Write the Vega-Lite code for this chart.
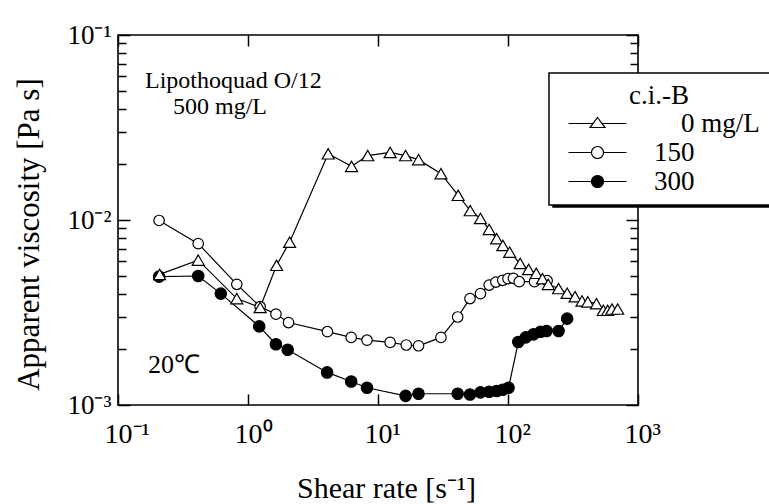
{
  "$schema": "https://vega.github.io/schema/vega-lite/v6.json",
  "width": 520,
  "height": 370,
  "autosize": "none",
  "padding": {"left": 118, "top": 35, "right": 131, "bottom": 99},
  "background": "white",
  "config": {
    "font": "Liberation Serif",
    "view": {"stroke": "black", "strokeWidth": 1.6},
    "axis": {"labelColor": "black", "titleColor": "black", "tickColor": "black", "tickWidth": 1.5, "domain": false, "grid": false, "labelFlush": false, "labelOverlap": false, "titleFontWeight": "normal"},
    "legend": {"strokeWidth": 1.5}
  },
  "data": {
    "values": [
      {"ciB": "300", "rate": 0.207, "visc": 0.00494},
      {"ciB": "300", "rate": 0.414, "visc": 0.00498},
      {"ciB": "300", "rate": 0.618, "visc": 0.0040},
      {"ciB": "300", "rate": 1.22, "visc": 0.00266},
      {"ciB": "300", "rate": 1.64, "visc": 0.00213},
      {"ciB": "300", "rate": 2.02, "visc": 0.00199},
      {"ciB": "300", "rate": 4.06, "visc": 0.0015},
      {"ciB": "300", "rate": 6.22, "visc": 0.00134},
      {"ciB": "300", "rate": 8.23, "visc": 0.00124},
      {"ciB": "300", "rate": 16.3, "visc": 0.00112},
      {"ciB": "300", "rate": 20.5, "visc": 0.00115},
      {"ciB": "300", "rate": 41, "visc": 0.00115},
      {"ciB": "300", "rate": 51, "visc": 0.00114},
      {"ciB": "300", "rate": 61.4, "visc": 0.00117},
      {"ciB": "300", "rate": 71.6, "visc": 0.00118},
      {"ciB": "300", "rate": 81.8, "visc": 0.00119},
      {"ciB": "300", "rate": 91, "visc": 0.00121},
      {"ciB": "300", "rate": 101, "visc": 0.00124},
      {"ciB": "300", "rate": 120, "visc": 0.00219},
      {"ciB": "300", "rate": 137, "visc": 0.00232},
      {"ciB": "300", "rate": 157, "visc": 0.00241},
      {"ciB": "300", "rate": 178, "visc": 0.00249},
      {"ciB": "300", "rate": 198, "visc": 0.00251},
      {"ciB": "300", "rate": 245, "visc": 0.00251},
      {"ciB": "300", "rate": 285, "visc": 0.00293},
      {"ciB": "150", "rate": 0.207, "visc": 0.00994},
      {"ciB": "150", "rate": 0.414, "visc": 0.00745},
      {"ciB": "150", "rate": 0.82, "visc": 0.00449},
      {"ciB": "150", "rate": 1.24, "visc": 0.0034},
      {"ciB": "150", "rate": 1.64, "visc": 0.0031},
      {"ciB": "150", "rate": 2.05, "visc": 0.00279},
      {"ciB": "150", "rate": 4.08, "visc": 0.00249},
      {"ciB": "150", "rate": 6.22, "visc": 0.00232},
      {"ciB": "150", "rate": 8.23, "visc": 0.00224},
      {"ciB": "150", "rate": 12.4, "visc": 0.00218},
      {"ciB": "150", "rate": 16.5, "visc": 0.00211},
      {"ciB": "150", "rate": 20.5, "visc": 0.00209},
      {"ciB": "150", "rate": 30.5, "visc": 0.00232},
      {"ciB": "150", "rate": 41, "visc": 0.00299},
      {"ciB": "150", "rate": 51, "visc": 0.00376},
      {"ciB": "150", "rate": 61.4, "visc": 0.0040},
      {"ciB": "150", "rate": 71.6, "visc": 0.00445},
      {"ciB": "150", "rate": 80.7, "visc": 0.00462},
      {"ciB": "150", "rate": 91, "visc": 0.00472},
      {"ciB": "150", "rate": 100, "visc": 0.00482},
      {"ciB": "150", "rate": 110, "visc": 0.00484},
      {"ciB": "150", "rate": 122, "visc": 0.00464},
      {"ciB": "150", "rate": 160, "visc": 0.00464},
      {"ciB": "150", "rate": 200, "visc": 0.0047},
      {"ciB": "0", "rate": 0.209, "visc": 0.00508},
      {"ciB": "0", "rate": 0.414, "visc": 0.00607},
      {"ciB": "0", "rate": 0.82, "visc": 0.00376},
      {"ciB": "0", "rate": 1.24, "visc": 0.00337},
      {"ciB": "0", "rate": 1.66, "visc": 0.00569},
      {"ciB": "0", "rate": 2.09, "visc": 0.00759},
      {"ciB": "0", "rate": 4.14, "visc": 0.0228},
      {"ciB": "0", "rate": 6.26, "visc": 0.0195},
      {"ciB": "0", "rate": 8.34, "visc": 0.0223},
      {"ciB": "0", "rate": 12.4, "visc": 0.0232},
      {"ciB": "0", "rate": 16.3, "visc": 0.0223},
      {"ciB": "0", "rate": 20.5, "visc": 0.0212},
      {"ciB": "0", "rate": 30.5, "visc": 0.0178},
      {"ciB": "0", "rate": 41.4, "visc": 0.0136},
      {"ciB": "0", "rate": 51.2, "visc": 0.01125},
      {"ciB": "0", "rate": 61.4, "visc": 0.01019},
      {"ciB": "0", "rate": 71.6, "visc": 0.00889},
      {"ciB": "0", "rate": 81.8, "visc": 0.00792},
      {"ciB": "0", "rate": 91.3, "visc": 0.00728},
      {"ciB": "0", "rate": 103, "visc": 0.0067},
      {"ciB": "0", "rate": 124, "visc": 0.00582},
      {"ciB": "0", "rate": 144, "visc": 0.0054},
      {"ciB": "0", "rate": 165, "visc": 0.00515},
      {"ciB": "0", "rate": 184, "visc": 0.00482},
      {"ciB": "0", "rate": 204, "visc": 0.00449},
      {"ciB": "0", "rate": 245, "visc": 0.00426},
      {"ciB": "0", "rate": 285, "visc": 0.00402},
      {"ciB": "0", "rate": 328, "visc": 0.00385},
      {"ciB": "0", "rate": 371, "visc": 0.00365},
      {"ciB": "0", "rate": 411, "visc": 0.00361},
      {"ciB": "0", "rate": 479, "visc": 0.00353},
      {"ciB": "0", "rate": 541, "visc": 0.00325},
      {"ciB": "0", "rate": 585, "visc": 0.00325},
      {"ciB": "0", "rate": 631, "visc": 0.0033},
      {"ciB": "0", "rate": 698, "visc": 0.0033}
    ]
  },
  "layer": [
    {
      "mark": {"type": "line", "color": "black", "strokeWidth": 1.2},
      "encoding": {
        "x": {"field": "rate", "type": "quantitative", "scale": {"type": "log", "domain": [0.1, 1000], "nice": false},
          "axis": {"orient": "bottom", "values": [0.1, 1, 10, 100, 1000],
            "labelExpr": "datum.value == 0.1 ? '10\u207b\u00b9' : datum.value == 1 ? '10\u2070' : datum.value == 10 ? '10\u00b9' : datum.value == 100 ? '10\u00b2' : '10\u00b3'",
            "labelFontSize": 28, "labelAlign": "left", "labelOffset": -14, "labelBaseline": "alphabetic", "labelPadding": 48.5,
            "tickSize": -11,
            "title": "Shear rate [s\u207b\u00b9]", "titleFontSize": 30, "titleX": 268, "titleY": 92, "titleBaseline": "alphabetic", "titleAlign": "center"}},
        "y": {"field": "visc", "type": "quantitative", "scale": {"type": "log", "domain": [0.001, 0.1], "nice": false},
          "axis": {"orient": "left", "values": [0.001, 0.002, 0.003, 0.004, 0.005, 0.006, 0.007, 0.008, 0.009, 0.01, 0.02, 0.03, 0.04, 0.05, 0.06, 0.07, 0.08, 0.09, 0.1],
            "labelExpr": "datum.value == 0.1 ? '10\u207b\u00b9' : datum.value == 0.01 ? '10\u207b\u00b2' : datum.value == 0.001 ? '10\u207b\u00b3' : ''",
            "labelFontSize": 27, "labelAlign": "right", "labelBaseline": "middle", "labelPadding": 19,
            "tickSize": {"condition": {"test": "datum.value == 0.001 || datum.value == 0.01 || datum.value == 0.1", "value": -12}, "value": -8},
            "title": "Apparent viscosity [Pa s]", "titleFontSize": 31, "titleX": -80, "titleY": 199, "titleAngle": -90, "titleBaseline": "alphabetic", "titleAlign": "center"}},
        "detail": {"field": "ciB", "type": "nominal"}
      }
    },
    {
      "mark": {"type": "point", "filled": true, "stroke": "black", "strokeWidth": 1.2, "opacity": 1},
      "encoding": {
        "x": {"field": "rate", "type": "quantitative", "axis": null},
        "y": {"field": "visc", "type": "quantitative", "axis": null},
        "shape": {"field": "ciB", "type": "nominal", "scale": {"domain": ["0", "150", "300"], "range": ["triangle-up", "circle", "circle"]}, "legend": null},
        "fill": {"field": "ciB", "type": "nominal", "scale": {"domain": ["0", "150", "300"], "range": ["white", "white", "black"]}, "legend": null},
        "size": {"field": "ciB", "type": "nominal", "scale": {"type": "ordinal", "domain": ["0", "150", "300"], "range": [144, 110, 130]}, "legend": null}
      }
    },
    {
      "mark": {"type": "point", "opacity": 0},
      "encoding": {
        "x": {"field": "rate", "type": "quantitative", "axis": null},
        "y": {"field": "visc", "type": "quantitative", "axis": null},
        "size": {"field": "ciB", "type": "nominal", "scale": {"type": "ordinal", "domain": ["0", "150", "300"], "range": [729, 729, 729]},
          "legend": {"title": null, "orient": "none", "legendX": 435, "legendY": 42, "fillColor": "black", "strokeColor": "black", "padding": 22, "rowPadding": 1,
            "symbolType": "square", "symbolOpacity": 0, "symbolOffset": 320, "labelExpr": "''", "labelOpacity": 0, "zindex": 1}}
      }
    },
    {
      "mark": {"type": "point", "filled": true, "stroke": "black", "strokeWidth": 1.2, "opacity": 0},
      "encoding": {
        "x": {"field": "rate", "type": "quantitative", "axis": null},
        "y": {"field": "visc", "type": "quantitative", "axis": null},
        "shape": {"field": "ciB", "type": "nominal",
          "scale": {"domain": ["0", "150", "300"], "range": ["M-4.83,0H-0.75M0.75,0H4.83M0,-1L1.25,0.67L-1.25,0.67Z", "M-4.83,0H-1M1,0H4.83M1,0A1,1,0,1,1,-1,0A1,1,0,1,1,1,0Z", "M-4.83,0H-1M1,0H4.83M1,0A1,1,0,1,1,-1,0A1,1,0,1,1,1,0Z"]},
          "legend": {"title": "c.i.-B", "orient": "none", "legendX": 431, "legendY": 38, "fillColor": "white", "strokeColor": "black", "padding": 10, "titlePadding": 0, "rowPadding": 1,
            "labelFontSize": 27, "titleFontSize": 27, "titleFontWeight": "normal", "titleAnchor": "middle", "labelColor": "black", "titleColor": "black",
            "symbolSize": 144, "symbolOffset": 25, "labelOffset": 43, "symbolStrokeColor": "black", "symbolStrokeWidth": 1.2, "symbolOpacity": 1, "labelLimit": 400,
            "labelExpr": "datum.label == '0' ? '\u200b\u2002\u20020 mg/L' : datum.label", "zindex": 2}},
        "fill": {"field": "ciB", "type": "nominal",
          "scale": {"domain": ["0", "150", "300"], "range": ["white", "white", "black"]},
          "legend": {"title": "c.i.-B", "orient": "none", "legendX": 431, "legendY": 38, "fillColor": "white", "strokeColor": "black", "padding": 10, "titlePadding": 0, "rowPadding": 1,
            "labelFontSize": 27, "titleFontSize": 27, "titleFontWeight": "normal", "titleAnchor": "middle", "labelColor": "black", "titleColor": "black",
            "symbolSize": 144, "symbolOffset": 25, "labelOffset": 43, "symbolStrokeColor": "black", "symbolStrokeWidth": 1.2, "symbolOpacity": 1, "labelLimit": 400,
            "labelExpr": "datum.label == '0' ? '\u200b\u2002\u20020 mg/L' : datum.label", "zindex": 2}},
        "stroke": {"field": "ciB", "type": "nominal",
          "scale": {"domain": ["0", "150", "300"], "range": ["black", "black", "black"]},
          "legend": {"title": "c.i.-B", "orient": "none", "legendX": 431, "legendY": 38, "fillColor": "white", "strokeColor": "black", "padding": 10, "titlePadding": 0, "rowPadding": 1,
            "labelFontSize": 27, "titleFontSize": 27, "titleFontWeight": "normal", "titleAnchor": "middle", "labelColor": "black", "titleColor": "black",
            "symbolSize": 144, "symbolOffset": 25, "labelOffset": 43, "symbolStrokeWidth": 1.2, "symbolOpacity": 1, "labelLimit": 400,
            "labelExpr": "datum.label == '0' ? '\u200b\u2002\u20020 mg/L' : datum.label", "zindex": 2}}
      }
    },
    {
      "mark": {"type": "point", "opacity": 0},
      "encoding": {
        "x": {"field": "rate", "type": "quantitative",
          "axis": {"orient": "top", "values": [0.1, 1, 10, 100, 1000], "labels": false, "tickSize": -11, "title": null}},
        "y": {"field": "visc", "type": "quantitative",
          "axis": {"orient": "right", "values": [0.001, 0.002, 0.003, 0.004, 0.005, 0.006, 0.007, 0.008, 0.009, 0.01, 0.02, 0.03, 0.04, 0.05, 0.06, 0.07, 0.08, 0.09, 0.1], "labels": false, "title": null,
            "tickSize": {"condition": {"test": "datum.value == 0.001 || datum.value == 0.01 || datum.value == 0.1", "value": -12}, "value": -8}}}
      }
    },
    {
      "data": {"values": [{}]},
      "mark": {"type": "text", "align": "left", "baseline": "alphabetic", "fontSize": 24, "color": "black"},
      "encoding": {
        "x": {"datum": 0.1614, "type": "quantitative", "axis": null},
        "y": {"datum": 0.0517, "type": "quantitative", "axis": null},
        "text": {"value": "Lipothoquad O/12"}
      }
    },
    {
      "data": {"values": [{}]},
      "mark": {"type": "text", "align": "left", "baseline": "alphabetic", "fontSize": 24, "color": "black"},
      "encoding": {
        "x": {"datum": 0.265, "type": "quantitative", "axis": null},
        "y": {"datum": 0.0374, "type": "quantitative", "axis": null},
        "text": {"value": "500 mg/L"}
      }
    },
    {
      "data": {"values": [{}]},
      "mark": {"type": "text", "align": "left", "baseline": "alphabetic", "fontSize": 26, "color": "black"},
      "encoding": {
        "x": {"datum": 0.1702, "type": "quantitative", "axis": null},
        "y": {"datum": 0.001495, "type": "quantitative", "axis": null},
        "text": {"value": "20\u2103"}
      }
    }
  ],
  "resolve": {"scale": {"shape": "independent", "fill": "independent", "stroke": "independent", "size": "independent"}, "axis": {"x": "independent", "y": "independent"}}
}
